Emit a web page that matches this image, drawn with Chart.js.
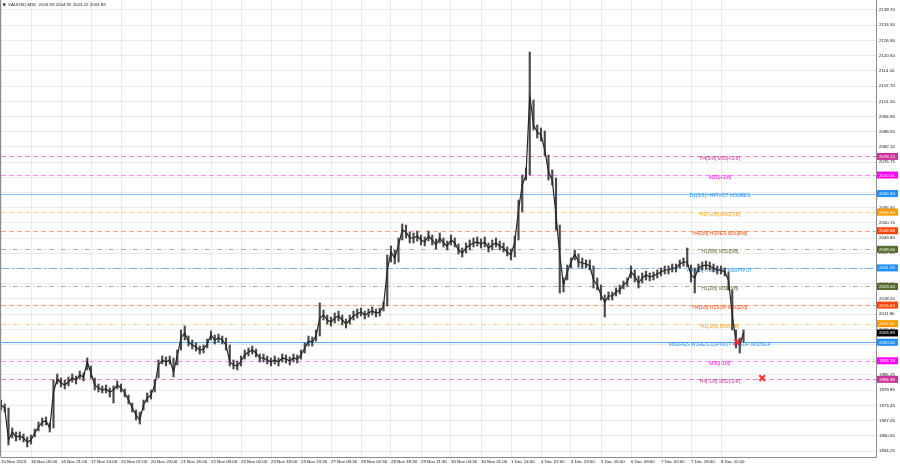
<!DOCTYPE html>
<html><head><meta charset="utf-8">
<script src="https://cdn.jsdelivr.net/npm/chart.js@4.4.0/dist/chart.umd.min.js"></script>
<style>html,body{margin:0;padding:0;background:#fff}#wrap{width:900px;height:468px}</style>
</head><body><div id="wrap"><canvas id="c" width="900" height="468"></canvas></div>
<script>
const symbolTitle = "XAUUSD,M30  2003.59 2004.95 2003.22 2003.89";
const timeLabels = ["15 Nov 2023","16 Nov 05:00","16 Nov 21:00","17 Nov 14:00","20 Nov 07:00","20 Nov 23:00","21 Nov 16:00","22 Nov 09:00","23 Nov 02:00","23 Nov 18:00","24 Nov 13:30","27 Nov 09:30","28 Nov 02:30","28 Nov 18:30","29 Nov 11:30","30 Nov 04:30","30 Nov 21:00","1 Dec 14:00","4 Dec 07:00","4 Dec 23:00","5 Dec 16:00","6 Dec 09:00","7 Dec 02:00","7 Dec 18:00","8 Dec 11:00"];
const priceTicks = [2139.70,2133.30,2126.90,2120.50,2114.10,2107.70,2101.30,2094.95,2088.55,2082.15,2075.75,2069.35,2062.95,2056.55,2050.15,2043.80,2037.40,2031.00,2024.60,2018.20,2011.80,2005.40,1999.00,1992.60,1986.25,1979.85,1973.45,1967.05,1960.65,1954.25];
// 2-hour samples (4 x M30 bars)
const closes = [1973.60,1972.34,1958.88,1962.25,1960.15,1960.57,1959.73,1958.04,1958.88,1961.83,
1964.35,1966.45,1966.87,1963.93,1979.07,1984.53,1982.85,1982.01,1983.27,1984.95,
1984.11,1986.21,1985.37,1991.68,1987.05,1982.01,1980.75,1979.91,1980.33,1979.07,
1979.91,1982.01,1980.75,1978.65,1975.70,1972.34,1969.40,1967.29,1973.60,1976.55,
1977.81,1982.01,1990.42,1992.52,1991.68,1992.52,1987.47,1994.20,2001.77,2003.87,
2000.09,1998.83,1997.99,1996.72,1997.15,1999.25,2003.03,2000.93,2001.77,2000.93,
1998.83,1991.68,1990.42,1990.00,1992.10,1994.62,1995.88,1996.72,1995.46,1993.36,
1993.36,1992.52,1991.68,1992.52,1991.68,1993.36,1992.94,1992.10,1993.36,1992.94,
1994.62,1997.57,2000.51,2000.09,2002.61,2010.18,2011.44,2009.34,2008.50,2010.18,
2011.02,2009.34,2007.66,2009.34,2011.02,2011.86,2012.70,2011.44,2012.28,2013.12,
2012.28,2012.70,2015.23,2030.37,2037.94,2035.41,2040.88,2047.19,2046.34,2043.82,
2043.82,2044.66,2042.98,2042.14,2044.66,2042.98,2040.88,2043.82,2041.72,2040.46,
2042.98,2041.72,2038.78,2037.52,2039.62,2040.88,2041.72,2042.14,2041.30,2042.14,
2039.62,2040.88,2041.72,2040.46,2039.62,2037.94,2036.68,2042.14,2055.60,2066.11,
2070.31,2103.95,2091.34,2088.41,2087.14,2080.83,2071.57,2068.21,2053.49,2036.68,
2024.06,2029.53,2033.73,2037.10,2033.73,2033.31,2032.89,2032.05,2026.16,2024.06,
2019.86,2016.91,2019.44,2019.44,2021.12,2021.96,2024.06,2025.32,2029.53,2027.85,
2024.90,2027.01,2028.27,2027.43,2027.85,2028.69,2029.53,2030.37,2030.37,2031.21,
2031.21,2032.89,2033.73,2033.73,2028.27,2027.01,2031.21,2032.05,2032.47,2032.05,
2031.21,2030.37,2030.37,2029.53,2026.16,2011.44,2000.09,1998.83,2003.89];
const highs = [1975.70,1974.02,1972.34,1963.93,1962.25,1962.25,1961.41,1960.15,1960.99,1963.51,
1966.45,1968.13,1968.56,1966.03,1984.11,1986.63,1984.95,1984.11,1985.37,1986.63,
1985.79,1987.90,1987.05,1993.36,1990.00,1984.95,1982.43,1981.59,1982.01,1980.75,
1981.59,1983.69,1982.43,1980.33,1977.81,1974.44,1971.50,1970.66,1975.70,1978.65,
1979.91,1984.11,1992.52,1994.20,1993.78,1994.20,1993.36,1996.72,2005.13,2006.82,
2002.61,2000.93,1999.67,1998.41,1998.83,2001.35,2004.71,2003.03,2003.45,2002.61,
2001.77,1998.83,1992.52,1992.10,1994.20,1996.72,1997.57,1998.41,1997.15,1995.04,
1995.04,1994.20,1993.36,1994.20,1993.36,1995.04,1994.62,1993.78,1995.04,1994.62,
1996.72,1999.67,2002.61,2002.19,2005.13,2016.49,2013.54,2011.44,2010.60,2012.28,
2013.12,2011.44,2009.76,2011.44,2013.12,2013.96,2014.38,2013.12,2013.96,2014.81,
2013.96,2014.38,2016.91,2036.68,2040.46,2038.78,2043.82,2049.71,2049.29,2046.34,
2045.92,2046.77,2045.08,2044.24,2046.77,2045.08,2043.40,2045.92,2043.82,2042.56,
2045.08,2043.82,2041.30,2039.62,2041.72,2042.98,2043.82,2044.24,2043.40,2044.24,
2041.72,2042.98,2043.82,2042.56,2041.72,2040.04,2039.20,2044.66,2059.80,2070.31,
2073.26,2122.04,2101.85,2091.34,2090.08,2088.82,2078.72,2072.42,2069.05,2049.29,
2027.01,2032.47,2035.41,2038.78,2037.10,2035.41,2034.57,2034.57,2032.05,2027.01,
2024.06,2019.86,2021.12,2021.12,2022.80,2024.06,2025.74,2027.01,2032.05,2030.37,
2027.85,2029.11,2029.95,2029.11,2029.53,2030.37,2031.21,2032.05,2032.05,2032.89,
2032.89,2034.57,2035.41,2039.62,2032.47,2031.21,2032.89,2033.73,2034.15,2033.73,
2032.89,2032.05,2032.05,2031.21,2029.53,2021.96,2005.13,2001.77,2005.13];
const lows = [1971.50,1970.66,1956.78,1959.73,1958.46,1958.88,1958.04,1955.94,1957.20,1960.15,
1962.67,1964.77,1965.19,1962.25,1963.93,1982.43,1981.17,1980.33,1981.59,1983.27,
1982.43,1984.53,1983.69,1988.32,1984.95,1979.91,1979.07,1978.65,1978.65,1976.97,
1974.44,1980.33,1979.07,1976.97,1974.02,1970.66,1967.29,1965.61,1971.50,1974.86,
1976.12,1979.07,1984.95,1990.84,1990.00,1990.84,1985.37,1990.42,1996.72,2000.93,
1998.41,1997.15,1996.30,1995.04,1995.46,1997.57,2000.93,1999.25,2000.09,1999.25,
1996.72,1990.00,1988.74,1988.32,1990.00,1992.94,1994.20,1995.04,1993.78,1991.68,
1991.68,1990.84,1990.00,1990.84,1990.00,1991.68,1991.26,1990.42,1991.68,1991.26,
1992.94,1995.46,1998.41,1998.41,2000.51,2002.61,2009.34,2007.66,2006.82,2008.08,
2008.92,2007.24,2005.98,2007.66,2009.34,2010.18,2011.02,2009.76,2010.60,2011.44,
2010.60,2011.02,2013.12,2015.23,2033.73,2032.89,2033.73,2042.98,2043.82,2041.72,
2041.72,2042.56,2040.88,2040.46,2042.56,2040.88,2039.20,2041.72,2040.04,2038.78,
2040.88,2040.04,2037.10,2035.84,2037.52,2038.78,2040.04,2040.46,2039.62,2040.04,
2037.94,2038.78,2040.04,2038.78,2037.94,2036.26,2034.57,2035.84,2042.98,2054.75,
2068.21,2070.31,2089.24,2085.88,2084.62,2078.30,2068.21,2066.11,2047.19,2020.70,
2021.12,2026.16,2031.21,2034.57,2031.63,2031.21,2031.21,2030.37,2022.80,2021.96,
2017.75,2010.60,2017.75,2017.75,2019.44,2020.28,2022.38,2023.64,2027.01,2025.32,
2022.80,2024.90,2026.16,2025.74,2026.16,2027.01,2027.85,2028.69,2028.69,2029.53,
2029.53,2031.21,2032.05,2031.63,2025.32,2020.70,2029.53,2030.37,2030.79,2030.37,
2029.53,2028.69,2028.69,2027.85,2021.96,2005.13,1997.57,1995.46,2000.09];
const levelPrices = [2078.12,2070.31,2062.50,2054.69,2046.88,2039.06,2031.25,2023.44,2015.62,2007.81,2000.00,1992.19,1984.38];
const levelNames = ["H4[5/8] M30[+2/8]","M30[+1/8]","D1[5/8] H4PIVOT M30RES","H1[+2/8] M30[7/8]","H4[3/8] H1RES M30[6/8]","H1[6/8] M30[5/8]","H4[2/8] H1PIVOT M30PIVOT","H1[2/8] M30[3/8]","H4[1/8] H1SUP M30[2/8]","H1[-2/8] M30[1/8]","MN1RES W1RES D1PIVOT H4SUP M30SUP","M30[-1/8]","H4[-1/8] M30[-2/8]"];
const currentPrice = 2003.89;
const markIndex = [196.3, 203.0];
const markPrice = [2000.1, 1984.9];

// styles
const levelColors = ['#cc3399','#ff00ff','#1e90ff','#ff9900','#ff4500','#556b2f','#1e90ff','#556b2f','#ff4500','#ff9900','#1e90ff','#ff00ff','#cc3399'];
const levelLineColors = ['rgba(230,80,170,0.75)','rgba(255,60,255,0.6)','rgba(30,144,255,0.55)','rgba(255,160,40,0.5)','rgba(255,90,40,0.55)','rgba(110,120,70,0.55)','rgba(30,144,255,0.6)','rgba(110,120,70,0.55)','rgba(255,90,40,0.6)','rgba(255,160,40,0.55)','rgba(30,144,255,0.75)','rgba(255,60,255,0.6)','rgba(230,80,170,0.75)'];
const levelDash = [[5,3],[5,3],[],[5,3],[5,3],[5,3,1,3],[8,3,2,3],[5,3,1,3],[5,3],[5,3,1,3],[],[5,3],[5,3]];
const labelAtIndex = 191.7;

const FONT = '"Liberation Sans", Arial, sans-serif';
const overlay = {
  id: 'overlay',
  beforeDatasetsDraw(chart) {
    const {ctx, chartArea: a, scales: {x, y}} = chart;
    ctx.save();
    ctx.beginPath(); ctx.rect(a.left, a.top, a.right - a.left, a.bottom - a.top); ctx.clip();
    levelPrices.forEach((p, i) => {
      const py = Math.round(y.getPixelForValue(p)) + 0.5;
      ctx.strokeStyle = levelLineColors[i];
      ctx.setLineDash(levelDash[i]);
      ctx.lineWidth = 1;
      ctx.beginPath(); ctx.moveTo(a.left, py); ctx.lineTo(a.right, py); ctx.stroke();
    });
    ctx.setLineDash([]);
    ctx.font = '5px ' + FONT;
    ctx.textAlign = 'center'; ctx.textBaseline = 'middle';
    const lx = x.getPixelForValue(labelAtIndex);
    levelPrices.forEach((p, i) => {
      ctx.fillStyle = levelColors[i];
      ctx.fillText(levelNames[i], lx, y.getPixelForValue(p) + 2.5);
    });
    ctx.restore();
  },
  afterDraw(chart) {
    const {ctx, chartArea: a, scales: {y}} = chart;
    ctx.save();
    ctx.strokeStyle = '#8c8c8c'; ctx.lineWidth = 1;
    ctx.beginPath(); ctx.moveTo(0.5, 0); ctx.lineTo(0.5, a.bottom); ctx.stroke();
    ctx.font = '4.4px ' + FONT; ctx.textAlign = 'left'; ctx.textBaseline = 'middle';
    const boxes = levelPrices.map((p, i) => [p, levelColors[i]]).concat([[currentPrice, '#000000']]);
    boxes.forEach(([p, col]) => {
      const py = y.getPixelForValue(p);
      ctx.fillStyle = col; ctx.fillRect(a.right + 1, py - 3.5, 21, 7);
      ctx.fillStyle = '#ffffff'; ctx.fillText(p.toFixed(2), a.right + 3, py + 0.3);
    });
    ctx.fillStyle = '#222'; ctx.font = '4.4px ' + FONT;
    ctx.fillText(symbolTitle, 8, 5);
    ctx.beginPath(); ctx.moveTo(2.5, 3.5); ctx.lineTo(6, 3.5); ctx.lineTo(4.25, 6.5); ctx.closePath(); ctx.fill();
    ctx.restore();
  }
};

new Chart(document.getElementById('c'), {
  data: {
    datasets: [
      { type: 'bar', data: closes.map((c, i) => ({x: i, y: [lows[i], highs[i]]})), backgroundColor: '#4a4a4a', barThickness: 1.5, order: 3 },
      { type: 'line', data: closes.map((c, i) => ({x: i, y: c})), borderColor: '#262626', borderWidth: 1.2, pointRadius: 0, tension: 0, order: 2 },
      { type: 'scatter', data: markIndex.map((m, i) => ({x: m, y: markPrice[i]})), pointStyle: 'crossRot', radius: 4, borderWidth: 2, borderColor: '#ff2a2a', order: 1 }
    ]
  },
  options: {
    responsive: false, animation: false, devicePixelRatio: 1,
    layout: { autoPadding: false, padding: { left: 1, top: 0, right: 0, bottom: 0 } },
    plugins: { legend: { display: false }, tooltip: { enabled: false } },
    scales: {
      x: {
        type: 'linear', min: 0, max: 875 / 3.75, offset: false,
        afterBuildTicks: s => { s.ticks = timeLabels.map((l, k) => ({ value: k * 8 })); },
        afterFit: s => { s.height = 11; s.paddingLeft = 0; s.paddingRight = 0; },
        ticks: { autoSkip: false, maxRotation: 0, align: 'start', padding: 2.5, color: '#111', font: { size: 4.4, family: FONT }, callback: (v, i) => timeLabels[i] },
        grid: { color: 'rgba(0,0,0,0.08)', drawTicks: false, offset: false },
        border: { color: '#8c8c8c' }
      },
      y: {
        type: 'linear', position: 'right', min: 1951.727, max: 2143.905,
        afterBuildTicks: s => { s.ticks = priceTicks.map(v => ({ value: v })); },
        afterFit: s => { s.width = 24; s.paddingTop = 0; s.paddingBottom = 0; },
        ticks: { padding: 3, color: '#111', font: { size: 4.4, family: FONT }, callback: v => v.toFixed(2) },
        grid: { color: 'rgba(0,0,0,0.08)', drawTicks: false, offset: false },
        border: { color: '#8c8c8c' }
      }
    }
  },
  plugins: [overlay]
});
</script></body></html>
